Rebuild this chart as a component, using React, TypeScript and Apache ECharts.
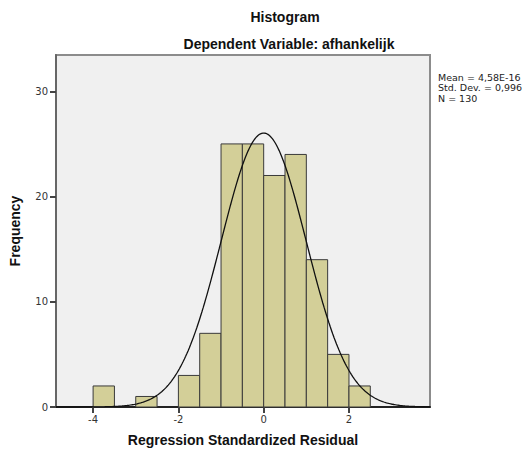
import React, { useEffect, useRef } from "react";
import * as echarts from "echarts";

// Histogram bins: [lower edge, upper edge]
const binStarts = [-4, -3.5, -3, -2.5, -2, -1.5, -1, -0.5, 0, 0.5, 1, 1.5, 2];
const binEnds = [-3.5, -3, -2.5, -2, -1.5, -1, -0.5, 0, 0.5, 1, 1.5, 2, 2.5];
const frequencies = [2, 0, 1, 0, 3, 7, 25, 25, 22, 24, 14, 5, 2];

const xTickValues = [-4, -2, 0, 2];
const yTickValues = [0, 10, 20, 30];

// Summary statistics shown in the chart (define the fitted normal curve)
const MEAN = 4.58e-16;
const STD_DEV = 0.996;
const N = 130;
const BIN_WIDTH = 0.5;
const statsLines = ["Mean = 4,58E-16", "Std. Dev. = 0,996", "N = 130"];

const X_MIN = -4.87;
const X_MAX = 3.9;

function normalCurve(): number[][] {
  const pts: number[][] = [];
  const steps = 300;
  for (let i = 0; i <= steps; i++) {
    const x = X_MIN + ((X_MAX - X_MIN) * i) / steps;
    const z = (x - MEAN) / STD_DEV;
    const y = (N * BIN_WIDTH * Math.exp(-0.5 * z * z)) / (STD_DEV * Math.sqrt(2 * Math.PI));
    pts.push([x, y]);
  }
  return pts;
}

const FONT = "'DejaVu Sans', 'Liberation Sans', sans-serif";
const TITLE_FONT = "'Liberation Sans', Arial, sans-serif";

export default function App() {
  const ref = useRef<HTMLDivElement>(null);
  useEffect(() => {
    if (!ref.current) return;
    const chart = echarts.init(ref.current, undefined, { renderer: "svg" });
    const barData = binStarts
      .map((s, i) => [s, binEnds[i], frequencies[i]])
      .filter((d) => d[2] > 0);
    chart.setOption({
      animation: false,
      textStyle: { fontFamily: FONT },
      grid: {
        left: 52,
        right: 96,
        top: 55,
        bottom: 48,
        show: true,
        backgroundColor: "#f0f0f0",
        borderColor: "#8c8c8c",
        borderWidth: 2,
      },
      xAxis: {
        type: "value",
        min: X_MIN,
        max: X_MAX,
        name: "Regression Standardized Residual",
        nameLocation: "middle",
        nameGap: 26,
        nameTextStyle: { fontSize: 14, fontWeight: "bold", color: "#111", fontFamily: TITLE_FONT },
        axisLine: { show: true, onZero: false, lineStyle: { color: "#222", width: 2 } },
        axisTick: {
          show: true,
          inside: false,
          customValues: xTickValues,
          length: 6,
          lineStyle: { color: "#444", width: 2 },
        },
        axisLabel: {
          customValues: xTickValues,
          fontSize: 10,
          color: "#333",
          margin: 7,
        },
        splitLine: { show: false },
      },
      yAxis: {
        type: "value",
        min: 0,
        max: 33.45,
        interval: 10,
        name: "Frequency",
        nameLocation: "middle",
        nameGap: 34,
        nameRotate: 90,
        nameTextStyle: { fontSize: 14, fontWeight: "bold", color: "#111", fontFamily: TITLE_FONT },
        axisLine: { show: true, onZero: false, lineStyle: { color: "#666", width: 2 } },
        axisTick: {
          show: true,
          inside: false,
          customValues: yTickValues,
          length: 6,
          lineStyle: { color: "#444", width: 2 },
        },
        axisLabel: { customValues: yTickValues, fontSize: 10, color: "#333", margin: 8 },
        splitLine: { show: false },
      },
      graphic: [
        {
          type: "text",
          x: 285,
          y: 17,
          style: {
            text: "Histogram",
            fontSize: 14,
            fontWeight: "bold",
            fill: "#111",
            fontFamily: TITLE_FONT,
            textAlign: "center",
            textVerticalAlign: "middle",
          },
        },
        {
          type: "text",
          x: 289,
          y: 44,
          style: {
            text: "Dependent Variable: afhankelijk",
            fontSize: 14,
            fontWeight: "bold",
            fill: "#111",
            fontFamily: TITLE_FONT,
            textAlign: "center",
            textVerticalAlign: "middle",
          },
        },
        {
          type: "text",
          x: 438,
          y: 72,
          style: {
            text: statsLines.join("\n"),
            fontSize: 9.5,
            lineHeight: 10.5,
            fill: "#222",
            fontFamily: FONT,
            textAlign: "left",
            textVerticalAlign: "top",
          },
        },
      ],
      series: [
        {
          type: "custom",
          data: barData,
          encode: { x: [0, 1], y: 2 },
          renderItem: (_params: any, api: any) => {
            const p0 = api.coord([api.value(0), api.value(2)]);
            const p1 = api.coord([api.value(1), 0]);
            return {
              type: "rect",
              shape: { x: p0[0], y: p0[1], width: p1[0] - p0[0], height: p1[1] - p0[1] },
              style: { fill: "#d3cf98", stroke: "#3a3a3a", lineWidth: 1 },
            };
          },
          z: 2,
        },
        {
          type: "line",
          data: normalCurve(),
          showSymbol: false,
          smooth: false,
          lineStyle: { color: "#111", width: 1.3 },
          z: 3,
        },
      ],
    });
    return () => chart.dispose();
  }, []);
  return (
    <div
      ref={ref}
      style={{ position: "fixed", left: 0, top: 0, width: 526, height: 455, background: "#fff" }}
    />
  );
}
